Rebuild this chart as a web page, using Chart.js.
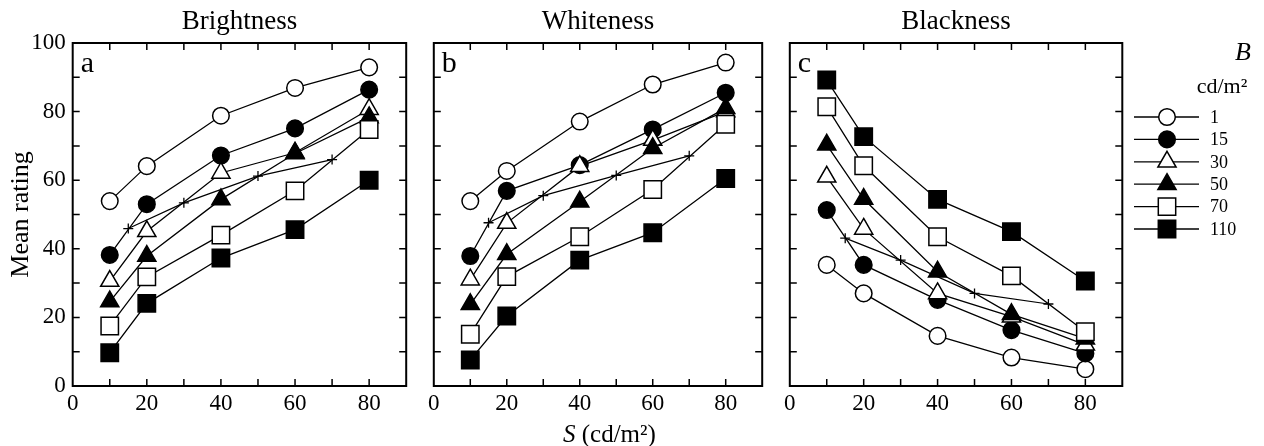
<!DOCTYPE html>
<html>
<head>
<meta charset="utf-8">
<script src="https://cdn.jsdelivr.net/npm/chart.js"></script>
<style>
    html, body { margin: 0; padding: 0; background: #fff; }
    body { width: 1264px; height: 446px; position: relative; overflow: hidden; }
    canvas { position: absolute; top: 0; }
</style>
</head>
<body>
<canvas id="panelA" width="420" height="446" style="left:0px"></canvas>
<canvas id="panelB" width="356" height="446" style="left:420px"></canvas>
<canvas id="panelC" width="488" height="446" style="left:776px"></canvas>
<script>
// S values (cd/m2) and background luminance levels B
const sValues = [10, 20, 40, 60, 80];
const matchS = [15, 30, 50, 70];
const bLevels = ['1', '15', '30', '50', '70', '110'];
const yTickLabels = [0, 20, 40, 60, 80, 100];
const xTickLabels = [0, 20, 40, 60, 80];

// a - Brightness
const brightB1 = [53.9, 64.1, 78.8, 86.9, 92.9];
const brightB15 = [38.2, 53.0, 67.2, 75.1, 86.4];
const brightB30 = [30.6, 45.1, 62.1, 68.0, 80.7];
const brightB50 = [24.6, 37.9, 54.4, 67.8, 78.3];
const brightB70 = [17.5, 31.8, 44.0, 56.9, 74.8];
const brightB110 = [9.7, 24.1, 37.3, 45.6, 60.0];
const brightMatch = [45.9, 53.4, 61.2, 66.0];

// b - Whiteness
const whiteB1 = [53.9, 62.7, 77.1, 87.9, 94.3];
const whiteB15 = [37.9, 56.9, 64.4, 74.8, 85.5];
const whiteB30 = [31.0, 47.5, 64.1, 71.7, 80.0];
const whiteB50 = [23.8, 38.4, 53.7, 69.3, 81.0];
const whiteB70 = [15.1, 31.9, 43.5, 57.3, 76.3];
const whiteB110 = [7.6, 20.4, 36.7, 44.7, 60.5];
const whiteMatch = [47.6, 55.5, 61.4, 67.1];

// c - Blackness
const blackB1 = [35.3, 27.0, 14.6, 8.3, 4.9];
const blackB15 = [51.3, 35.3, 25.1, 16.3, 9.5];
const blackB30 = [61.0, 45.8, 27.0, 20.2, 12.0];
const blackB50 = [70.3, 54.5, 33.3, 20.9, 13.8];
const blackB70 = [81.4, 64.2, 43.5, 32.1, 15.8];
const blackB110 = [89.2, 72.7, 54.4, 45.0, 30.6];
const blackMatch = [43.1, 36.7, 27.0, 23.9];

// marker styles per B level
const markerStyles = ['circle', 'circle', 'triangle', 'triangle', 'rect', 'rect'];
const markerFills = ['#fff', '#000', '#fff', '#000', '#fff', '#000'];
const markerRadius = [8.3, 8.3, 10.5, 10.5, 12.3, 12.3];

const SERIF = "'Liberation Serif', 'DejaVu Serif', serif";
Chart.defaults.font.family = SERIF;
Chart.defaults.color = '#000';

function drawMarker(ctx, style, r, fill, x, y) {
    ctx.save();
    ctx.fillStyle = fill;
    ctx.strokeStyle = '#000';
    ctx.lineWidth = 1.5;
    ctx.beginPath();
    if (style === 'circle') {
        ctx.arc(x, y, r, 0, Math.PI * 2);
    } else if (style === 'triangle') {
        const h = r * Math.sqrt(3) / 2;
        ctx.moveTo(x, y - r);
        ctx.lineTo(x + h, y + r / 2);
        ctx.lineTo(x - h, y + r / 2);
        ctx.closePath();
    } else {
        const s = r * Math.SQRT1_2;
        ctx.rect(x - s, y - s, 2 * s, 2 * s);
    }
    ctx.fill();
    ctx.stroke();
    ctx.restore();
}

const panelDeco = {
    id: 'panelDeco',
    afterDraw(chart, args, opts) {
        const ctx = chart.ctx;
        const area = chart.chartArea;
        const xs = chart.scales.x;
        const ys = chart.scales.y;
        ctx.save();
        ctx.strokeStyle = '#000';
        // inward ticks on all four sides
        ctx.lineWidth = 1.5;
        ctx.beginPath();
        for (let v = 10; v < 90; v += 10) {
            const px = xs.getPixelForValue(v);
            ctx.moveTo(px, area.bottom); ctx.lineTo(px, area.bottom - 7);
            ctx.moveTo(px, area.top); ctx.lineTo(px, area.top + 7);
        }
        for (let v = 10; v < 100; v += 10) {
            const py = ys.getPixelForValue(v);
            ctx.moveTo(area.left, py); ctx.lineTo(area.left + 7, py);
            ctx.moveTo(area.right, py); ctx.lineTo(area.right - 7, py);
        }
        ctx.stroke();
        // frame
        ctx.lineWidth = 2;
        ctx.strokeRect(area.left, area.top, area.right - area.left, area.bottom - area.top);

        // panel letter
        ctx.fillStyle = '#000';
        ctx.font = '30px ' + SERIF;
        ctx.textAlign = 'left';
        ctx.textBaseline = 'alphabetic';
        ctx.fillText(opts.letter, area.left + 8, area.top + 29);

        if (opts.xTitle) {
            ctx.font = 'italic 25px ' + SERIF;
            const x0 = 143;
            ctx.fillText('S', x0, 442);
            const w = ctx.measureText('S').width;
            ctx.font = '25px ' + SERIF;
            ctx.fillText(' (cd/m\u00B2)', x0 + w, 442);
        }

        if (opts.legend) {
            const ds = chart.data.datasets.slice(0, bLevels.length);
            ctx.textAlign = 'center';
            ctx.textBaseline = 'middle';
            ctx.font = 'italic 26px ' + SERIF;
            ctx.fillText('B', 467, 53);
            ctx.font = '22px ' + SERIF;
            ctx.fillText('cd/m\u00B2', 446, 87);
            ctx.textAlign = 'left';
            ctx.font = '18px ' + SERIF;
            ds.forEach((d, i) => {
                const y = 117 + i * 22.4;
                ctx.lineWidth = 1.3;
                ctx.beginPath();
                ctx.moveTo(358, y);
                ctx.lineTo(423, y);
                ctx.stroke();
                drawMarker(ctx, d.pointStyle, d.pointRadius, d.pointBackgroundColor, 391, y);
                ctx.fillStyle = '#000';
                ctx.fillText(d.label, 434, y + 1);
            });
        }
        ctx.restore();
    }
};

function buildDatasets(series, match) {
    const sets = series.map((values, i) => ({
        label: bLevels[i],
        data: values.map((v, j) => ({ x: sValues[j], y: v })),
        borderColor: '#000',
        borderWidth: 1.3,
        pointStyle: markerStyles[i],
        pointRadius: markerRadius[i],
        pointBackgroundColor: markerFills[i],
        pointBorderColor: '#000',
        pointBorderWidth: 1.5,
        order: -i
    }));
    sets.push({
        label: 'match',
        data: match.map((v, j) => ({ x: matchS[j], y: v })),
        borderColor: '#000',
        borderWidth: 1.2,
        pointStyle: 'cross',
        pointRadius: 5,
        pointBorderColor: '#000',
        pointBorderWidth: 1.3,
        order: -10
    });
    return sets;
}

function createPanel(canvasId, title, letter, series, match, opt) {
    const ctx = document.getElementById(canvasId);
    return new Chart(ctx, {
        type: 'line',
        data: { datasets: buildDatasets(series, match) },
        options: {
            responsive: false,
            animation: false,
            layout: { padding: { left: 0, right: opt.padRight, top: 0, bottom: 0 } },
            scales: {
                x: {
                    type: 'linear',
                    min: 0,
                    max: 90,
                    grid: { display: false, drawTicks: false },
                    border: { display: false },
                    ticks: {
                        stepSize: 10,
                        autoSkip: false,
                        maxRotation: 0,
                        padding: 4,
                        font: { size: 23 },
                        callback: v => xTickLabels.includes(v) ? String(v) : ''
                    },
                    afterFit: s => { s.height = 60; }
                },
                y: {
                    min: 0,
                    max: 100,
                    grid: { display: false, drawTicks: false },
                    border: { display: false },
                    ticks: {
                        display: opt.showY,
                        stepSize: 10,
                        autoSkip: false,
                        padding: 7,
                        font: { size: 23 },
                        callback: v => yTickLabels.includes(v) ? String(v) : ''
                    },
                    title: {
                        display: opt.showY,
                        text: 'Mean rating',
                        font: { size: 26 },
                        padding: { top: 6, bottom: 0 }
                    },
                    afterFit: s => { s.width = opt.yWidth; }
                }
            },
            plugins: {
                legend: { display: false },
                tooltip: { enabled: false },
                title: {
                    display: true,
                    text: title,
                    fullSize: false,
                    font: { size: 27, weight: 'normal' },
                    padding: { top: 6, bottom: 4.6 }
                },
                panelDeco: { letter: letter, xTitle: opt.xTitle, legend: opt.legend }
            }
        },
        plugins: [panelDeco]
    });
}

createPanel('panelA', 'Brightness', 'a',
    [brightB1, brightB15, brightB30, brightB50, brightB70, brightB110], brightMatch,
    { showY: true, yWidth: 72.7, padRight: 11, xTitle: false, legend: false });
createPanel('panelB', 'Whiteness', 'b',
    [whiteB1, whiteB15, whiteB30, whiteB50, whiteB70, whiteB110], whiteMatch,
    { showY: false, yWidth: 9.3, padRight: 10.3, xTitle: true, legend: false });
createPanel('panelC', 'Blackness', 'c',
    [blackB1, blackB15, blackB30, blackB50, blackB70, blackB110], blackMatch,
    { showY: false, yWidth: 9, padRight: 141.7, xTitle: false, legend: true });
</script>
</body>
</html>
